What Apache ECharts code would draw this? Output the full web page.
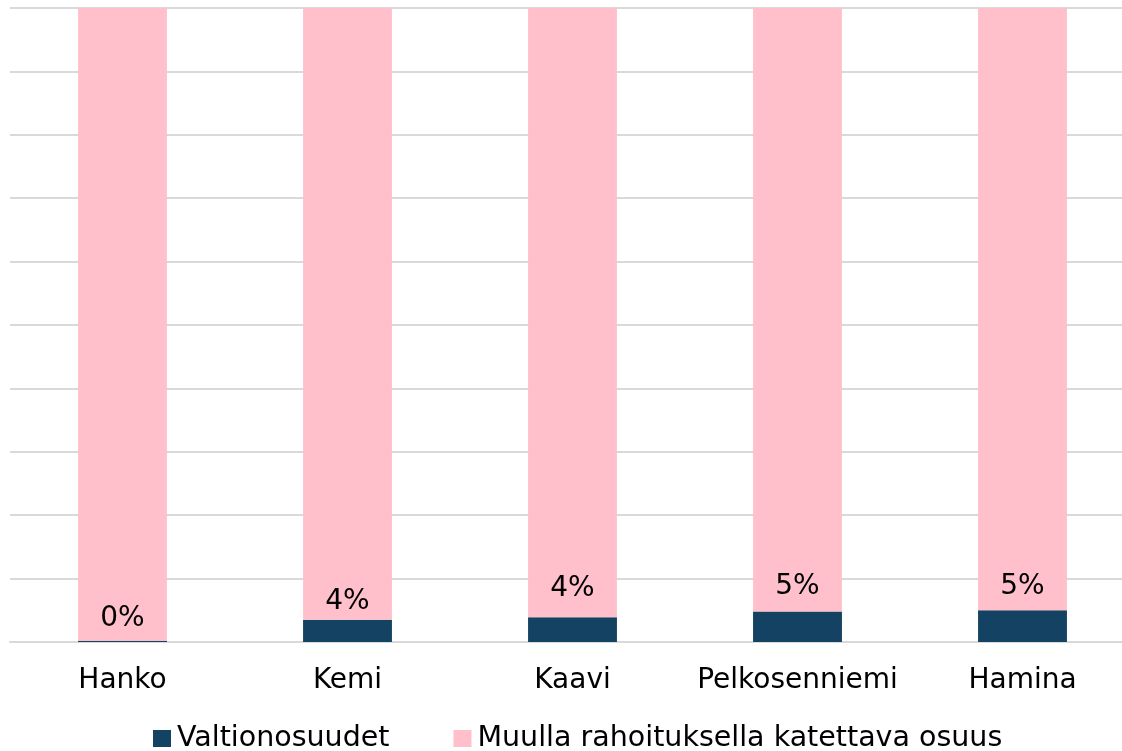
<!DOCTYPE html>
<html>
<head>
<meta charset="utf-8">
<script src="https://cdn.jsdelivr.net/npm/echarts@6/dist/echarts.min.js"></script>
<style>
html,body{margin:0;padding:0;background:#fff;}
#chart{width:1122px;height:751px;}
</style>
</head>
<body>
<div id="chart"></div>
<script>
const categories = ['Hanko', 'Kemi', 'Kaavi', 'Pelkosenniemi', 'Hamina'];
const valtionosuudet = [0.2, 3.5, 3.9, 4.8, 5.0];
const muulla = [99.8, 96.5, 96.1, 95.2, 95.0];
const seriesNames = ['Valtionosuudet', 'Muulla rahoituksella katettava osuus'];

const FONT = '"DejaVu Sans", "Open Sans", sans-serif';
const labelOffsets = [[0, -3], [0, 1], [0, -10], [0, -6], [0, -5]];

const chart = echarts.init(document.getElementById('chart'), null, {renderer: 'canvas'});
chart.setOption({
  animation: false,
  backgroundColor: '#ffffff',
  grid: {left: 10, top: 8, width: 1125, height: 634, containLabel: false, outerBoundsMode: 'none'},
  legend: {
    top: 719,
    left: 148,
    itemWidth: 18,
    itemHeight: 17,
    itemGap: 64,
    icon: 'rect',
    textStyle: {fontFamily: FONT, fontSize: 28.5, color: '#000', padding: [0, 0, 0, 1]},
    data: seriesNames
  },
  xAxis: {
    type: 'category',
    data: categories,
    axisLine: {show: true, lineStyle: {color: '#d9d9d9', width: 2}},
    axisTick: {show: false},
    axisLabel: {fontFamily: FONT, fontSize: 28, color: '#000', margin: 25, interval: 0}
  },
  yAxis: {
    type: 'value',
    min: 0,
    max: 100,
    interval: 10,
    axisLine: {show: false},
    axisTick: {show: false},
    axisLabel: {show: false},
    splitLine: {lineStyle: {color: '#d9d9d9', width: 2}}
  },
  series: [
    {
      name: seriesNames[0],
      type: 'bar',
      stack: 'total',
      barWidth: '39.5%',
      itemStyle: {color: '#134262'},
      data: valtionosuudet.map((v, i) => ({
        value: v,
        label: {offset: labelOffsets[i]}
      })),
      label: {
        show: true,
        position: 'top',
        distance: 5,
        fontFamily: FONT,
        fontSize: 28,
        color: '#000',
        formatter: p => Math.round(p.value) + '%'
      }
    },
    {
      name: seriesNames[1],
      type: 'bar',
      stack: 'total',
      barWidth: '39.5%',
      itemStyle: {color: '#ffc0cb'},
      data: muulla
    }
  ]
});
</script>
</body>
</html>
